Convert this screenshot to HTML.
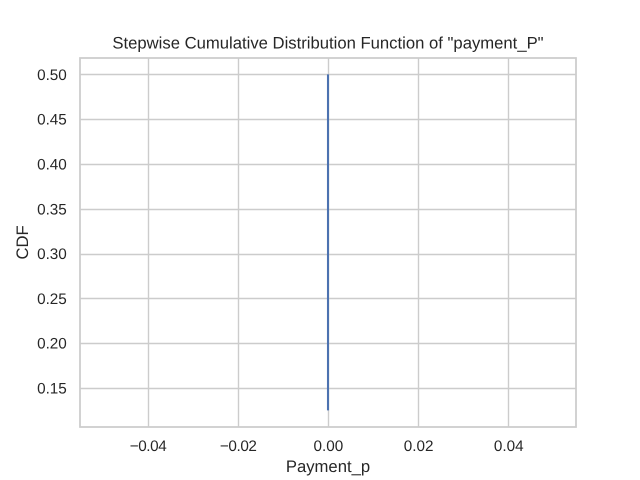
<!DOCTYPE html>
<html>
<head>
<meta charset="utf-8">
<style>
html,body{margin:0;padding:0;background:#fff;width:640px;height:480px;overflow:hidden}
svg{display:block}
text{font-family:"Liberation Sans",Arial,sans-serif;fill:#262626;text-rendering:geometricPrecision}
</style>
</head>
<body>
<svg id="chart" width="640" height="480" viewBox="0 0 640 480" xmlns="http://www.w3.org/2000/svg">
<rect width="640" height="480" fill="#fff"/>
<g id="grid"></g>
<g id="marks"></g>
<rect x="80" y="58" width="496" height="369" fill="none" stroke="#cccccc" stroke-width="1.74"/>
<g id="xticks"></g>
<g id="yticks"></g>
<text x="328" y="48.5" text-anchor="middle" font-size="16.67">Stepwise Cumulative Distribution Function of "payment_P"</text>
<text x="328" y="472" text-anchor="middle" font-size="16.67">Payment_p</text>
<text x="28" y="242.4" text-anchor="middle" font-size="16.67" transform="rotate(-90 28 242.4)">CDF</text>
</svg>
<script>
const xTickValues = [-0.04, -0.02, 0, 0.02, 0.04];
const xTickLabels = ["\u22120.04", "\u22120.02", "0.00", "0.02", "0.04"];
const yTickValues = [0.15, 0.20, 0.25, 0.30, 0.35, 0.40, 0.45, 0.50];
const yTickLabels = ["0.15", "0.20", "0.25", "0.30", "0.35", "0.40", "0.45", "0.50"];
const seriesX = [0, 0];
const seriesY = [0.125, 0.5];

const NS = 'http://www.w3.org/2000/svg';
const plot = {left: 80, right: 576, top: 57.6, bottom: 427.2};
const xDomain = [-0.055, 0.055];
const yPad = 16.8;

function xScale(v) {
  return plot.left + (v - xDomain[0]) / (xDomain[1] - xDomain[0]) * (plot.right - plot.left);
}
function yScale(v) {
  const lo = Math.min(...seriesY);
  const hi = Math.max(...seriesY);
  const span = (hi - lo) || 1;
  return (plot.bottom - yPad) - (v - lo) / span * (plot.bottom - plot.top - 2 * yPad);
}
function snap(p) {
  return Math.floor(p + 0.5) + 0.5;
}
function make(tag, attrs, parent) {
  const el = document.createElementNS(NS, tag);
  for (const k in attrs) el.setAttribute(k, attrs[k]);
  parent.appendChild(el);
  return el;
}

const grid = document.getElementById('grid');
const marks = document.getElementById('marks');
const xticks = document.getElementById('xticks');
const yticks = document.getElementById('yticks');

xTickValues.forEach(function (v, i) {
  const x = xScale(v);
  const gx = snap(x);
  const line = make('line', {x1: gx, x2: gx, y1: plot.top, y2: plot.bottom, stroke: '#cccccc', 'stroke-width': 1.39}, grid);
  
  
  const label = make('text', {x: x + 0.4, y: 451, 'text-anchor': 'middle', 'font-size': 15.28}, xticks);
  if (v < 0) label.setAttribute('letter-spacing', '-0.4');
  label.textContent = xTickLabels[i];
  
  
});

yTickValues.forEach(function (v, i) {
  const y = yScale(v);
  const gy = snap(y);
  const line = make('line', {x1: plot.left, x2: plot.right, y1: gy, y2: gy, stroke: '#cccccc', 'stroke-width': 1.39}, grid);
  
  
  const label = make('text', {x: 66.8, y: y + 5.5, 'text-anchor': 'end', 'font-size': 15.28}, yticks);
  label.textContent = yTickLabels[i];
  
  
});

const points = seriesX.map(function (v, i) {
  return xScale(v) + ',' + yScale(seriesY[i]);
}).join(' ');
const cdfLine = make('polyline', {points: points, fill: 'none', stroke: '#4c72b0', 'stroke-width': 2.08}, marks);


</script>
</body>
</html>
